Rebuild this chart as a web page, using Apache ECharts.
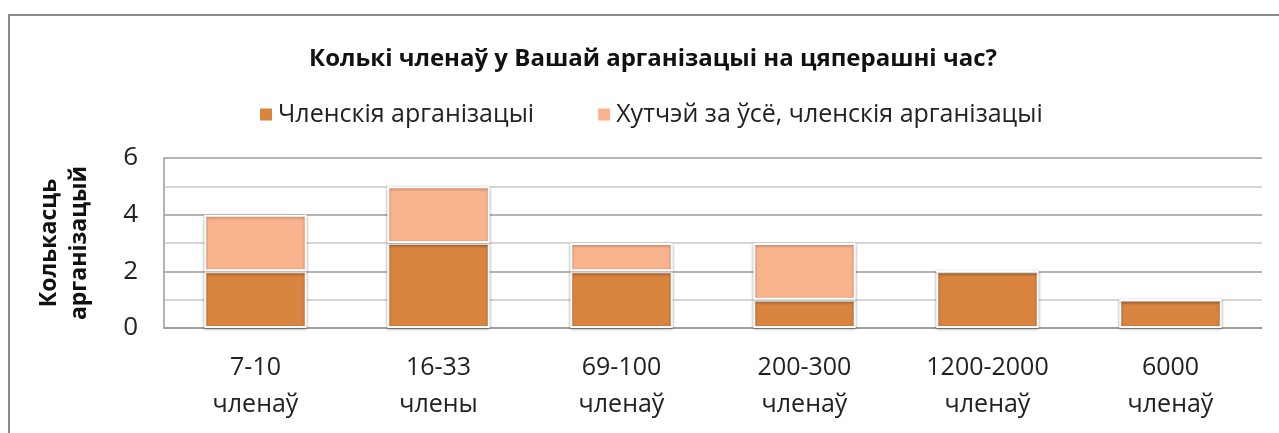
<!DOCTYPE html>
<html><head><meta charset="utf-8">
<script src="https://cdn.jsdelivr.net/npm/echarts@6/dist/echarts.min.js"></script>
<style>html,body{margin:0;padding:0;background:#fff}#c{width:1279px;height:433px}</style>
</head><body><div id="c"></div>
<script>
const categories = ['7-10\nчленаў', '16-33\nчлены', '69-100\nчленаў', '200-300\nчленаў', '1200-2000\nчленаў', '6000\nчленаў'];
const seriesNames = ['Членскія арганізацыі', 'Хутчэй за ўсё, членскія арганізацыі'];
const members = [2, 3, 2, 1, 2, 1];
const likelyMembers = [2, 2, 1, 2, 0, 0];
const titleText = 'Колькі членаў у Вашай арганізацыі на цяперашні час?';
const yAxisName = 'Колькасць\nарганізацый';

const FONT = 'Open Sans';
const chart = echarts.init(document.getElementById('c'));
const barStyle = (color) => ({
  color: color, borderColor: '#fff', borderWidth: 2,
  shadowColor: 'rgba(0,0,0,0.35)', shadowBlur: 3, shadowOffsetX: 0, shadowOffsetY: 1
});
chart.setOption({
  animation: false,
  graphic: [{ type: 'rect', shape: { x: 9, y: 15, width: 1300, height: 500 }, style: { fill: 'none', stroke: '#8a8a8a', lineWidth: 2 }, silent: true }],
  title: { text: titleText, left: 648, textAlign: 'center', top: 42,
    textStyle: { fontFamily: FONT, fontWeight: 'bold', fontSize: 24, color: '#111' } },
  legend: { top: 97, left: 253, width: 1000, itemGap: 62, itemWidth: 14, itemHeight: 14, icon: 'rect',
    textStyle: { fontFamily: FONT, fontSize: 25, color: '#222' } },
  grid: { left: 164, right: 17, top: 158, bottom: 105 },
  xAxis: { type: 'category', data: categories,
    axisLine: { show: true, lineStyle: { color: '#999', width: 1.5 } }, axisTick: { show: false },
    axisLabel: { fontFamily: FONT, fontSize: 25, color: '#222', lineHeight: 37, margin: 21 } },
  yAxis: { type: 'value', min: 0, max: 6, interval: 2,
    name: yAxisName, nameLocation: 'middle', nameGap: 70, nameRotate: 90,
    nameTextStyle: { fontFamily: FONT, fontWeight: 'bold', fontSize: 23, color: '#111', lineHeight: 30 },
    axisLine: { show: true, lineStyle: { color: '#999', width: 1.5 } }, axisTick: { show: false },
    axisLabel: { fontFamily: FONT, fontSize: 26, color: '#222', margin: 26 },
    splitLine: { lineStyle: { color: '#9a9a9a', width: 1.5 } },
    minorTick: { show: false, splitNumber: 2 },
    minorSplitLine: { show: true, lineStyle: { color: '#c8c8c8', width: 1.5 } } },
  series: [
    { name: seriesNames[0], type: 'bar', stack: 's', data: members, barWidth: '56%', itemStyle: barStyle('#D9843F') },
    { name: seriesNames[1], type: 'bar', stack: 's', data: likelyMembers, barWidth: '56%', itemStyle: barStyle('#F9B48E') }
  ]
});
</script></body></html>
